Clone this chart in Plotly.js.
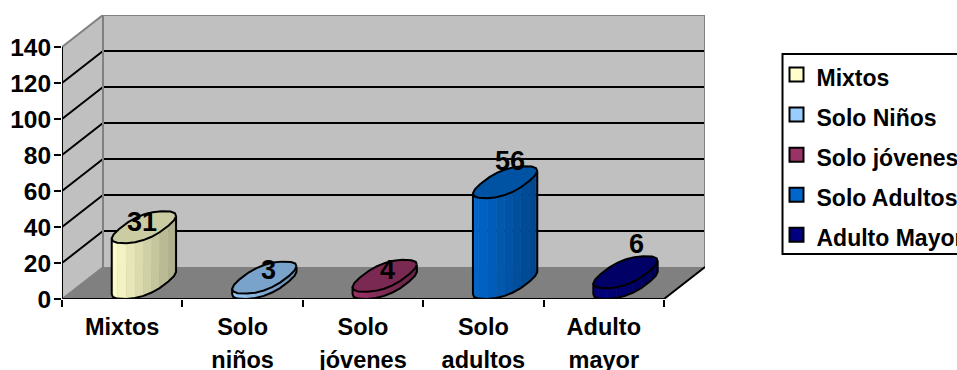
<!DOCTYPE html>
<html><head><meta charset="utf-8">
<script src="https://cdn.plot.ly/plotly-3.0.1.min.js"></script>
<style>html,body{margin:0;padding:0;background:#fff;overflow:hidden}</style>
</head><body><div id="chart" style="width:957px;height:370px"></div>
<script>
// ---- data ----
const seriesNames = ["Mixtos","Solo Niños","Solo jóvenes","Solo Adultos","Adulto Mayor"];
const categoryLine1 = ["Mixtos","Solo","Solo","Solo","Adulto"];
const categoryLine2 = ["","niños","jóvenes","adultos","mayor"];
const values = [31,3,4,56,6];
const yTicks = [0,20,40,60,80,100,120,140];
// ---- style ----
const baseColors = [[255,255,204],[153,204,255],[153,51,102],[0,102,204],[0,0,128]];
const labelNudgeX = [-1,5,4,6,12];
const labelNudgeY = [5,8,6,21,28];
const FONT = "Liberation Sans, Arial, sans-serif";
// oblique projection, in axis units
const nCat = values.length;
const depthX = 41/120.4, depthY = 32/1.8;
const halfW = 24.6/120.4;
const yTop = yTicks[yTicks.length-1];
const rgb = (c,f)=>`rgb(${c.map(v=>Math.round(v*f)).join(",")})`;
const legendSpan = s=>`<span style="font-size:23px">${s}</span>`;

const traces = [];
// series markers: hidden behind the caps, carry the legend swatches
values.forEach((v,i)=>traces.push({
  type:"scatter",mode:"markers",name:legendSpan(seriesNames[i]),
  x:[i+0.5+depthX/2],y:[v+depthY/2],
  marker:{symbol:"square",size:14,color:rgb(baseColors[i],1),line:{color:"#000",width:2}},
  hoverinfo:"skip"
}));
const boxy=0.82;
const pw=c=>Math.sign(c)*Math.pow(Math.abs(c),boxy);
function ellipse(i,cy,t){
  const cx=i+0.5+depthX/2+0.01;
  const c=pw(Math.cos(t)), s=pw(Math.sin(t));
  return [cx+halfW*0.92*c+depthX/2*s*0.98, cy+depthY/2*s];
}
const t0=Math.atan2(depthX/2,halfW), STEPS=10;
values.forEach((v,i)=>{
  const arc=[];
  for(let k=0;k<=STEPS;k++) arc.push(ellipse(i,depthY/2,t0+Math.PI+Math.PI*k/STEPS));
  // side strips
  for(let k=0;k<STEPS;k++){
    const a=arc[k],b=arc[k+1];
    const f=1-0.33*((a[0]+b[0])/2-arc[0][0])/(arc[STEPS][0]-arc[0][0]);
    traces.push({type:"scatter",mode:"lines",fill:"toself",showlegend:false,hoverinfo:"skip",
      x:[a[0],b[0],b[0],a[0],a[0]],y:[a[1],b[1],b[1]+v,a[1]+v,a[1]],
      fillcolor:rgb(baseColors[i],f),line:{width:0.5,color:rgb(baseColors[i],f)}});
  }
  // silhouette
  const sx=arc.map(p=>p[0]), sy=arc.map(p=>p[1]);
  traces.push({type:"scatter",mode:"lines",showlegend:false,hoverinfo:"skip",
    x:[arc[0][0],...sx,arc[STEPS][0]],y:[arc[0][1]+v,...sy,arc[STEPS][1]+v],
    line:{color:"#000",width:2}});
  // cap
  const cx=[],cy=[];
  for(let k=0;k<=2*STEPS;k++){const p=ellipse(i,v+depthY/2,t0+Math.PI*k/STEPS);cx.push(p[0]);cy.push(p[1]);}
  traces.push({type:"scatter",mode:"lines",fill:"toself",showlegend:false,hoverinfo:"skip",
    x:cx,y:cy,fillcolor:rgb(baseColors[i],0.8),line:{color:"#000",width:2}});
});

// walls, floor, grid
const poly=(pts,fill)=>({type:"path",xref:"x",yref:"y",layer:"below",
  path:"M"+pts.map(p=>p.join(",")).join("L")+"Z",fillcolor:fill,line:{width:0}});
const seg=(a,b,c,w)=>({type:"line",xref:"x",yref:"y",layer:"below",x0:a[0],y0:a[1],x1:b[0],y1:b[1],line:{color:c,width:w}});
const shapes=[
  poly([[depthX,depthY],[nCat+depthX,depthY],[nCat+depthX,yTop+depthY],[depthX,yTop+depthY]],"#c0c0c0"),
  poly([[0,0],[depthX,depthY],[depthX,yTop+depthY],[0,yTop]],"#c0c0c0"),
  poly([[0,0],[nCat,0],[nCat+depthX,depthY],[depthX,depthY]],"#808080"),
];
yTicks.slice(1,-1).forEach(v=>{
  shapes.push(seg([depthX,v+depthY],[nCat+depthX,v+depthY],"#000",2));
  shapes.push(seg([0,v],[depthX,v+depthY],"#000",2));
});
shapes.push(seg([0,yTop],[depthX,yTop+depthY],"#808080",2));
shapes.push(seg([depthX,yTop+depthY],[nCat+depthX,yTop+depthY],"#808080",2));
shapes.push(seg([depthX,depthY],[depthX,yTop+depthY],"#808080",2));
shapes.push(seg([nCat+depthX,depthY],[nCat+depthX,yTop+depthY],"#808080",2));
shapes.push(seg([0,0],[depthX,depthY],"#808080",1.5));
shapes.push(seg([nCat,0],[nCat+depthX,depthY],"#000",2));
shapes.push(seg([0,0],[nCat,0],"#000",2));
shapes.push(seg([0,0],[0,yTop],"#000",2));
// legend frame (open on the right: it runs off the picture)
const px=v=>(v-62)/643, py=v=>(299-v)/284;
shapes.push({type:"rect",xref:"paper",yref:"paper",layer:"below",x0:px(782.5),x1:px(1000),y0:py(254),y1:py(54),
  line:{color:"#000",width:2},fillcolor:"#fff"});

const annotations=values.map((v,i)=>({
  x:i+0.5+depthX/2,y:v+depthY/2,xref:"x",yref:"y",text:String(v),showarrow:false,
  xshift:labelNudgeX[i],yshift:labelNudgeY[i],
  font:{family:FONT,size:27,color:"#000",weight:700}
}));

const span=s=>`<span style="font-size:23.5px">${s}</span>`;
const layout={
  width:957,height:370,showlegend:true,
  margin:{l:62,r:252,t:15,b:71,pad:0,autoexpand:false},
  paper_bgcolor:"#fff",plot_bgcolor:"rgba(0,0,0,0)",
  xaxis:{type:"linear",range:[0,643/120.4],showgrid:false,zeroline:false,showline:false,
    tickmode:"array",tickvals:categoryLine1.map((_,i)=>i+0.5),
    ticktext:categoryLine1.map((s,i)=>categoryLine2[i]?span(s)+"<br>"+span(categoryLine2[i]):span(s)),
    ticks:"",tickangle:0,ticklabelstandoff:10,tickfont:{family:FONT,size:25.4,color:"#000",weight:700},
    minor:{tickmode:"array",tickvals:[0,1,2,3,4,5],ticks:"outside",ticklen:7,tickwidth:2,tickcolor:"#000",showgrid:false}},
  yaxis:{range:[0,284/1.8],showgrid:false,zeroline:false,showline:false,
    tickmode:"array",tickvals:yTicks,ticks:"outside",ticklen:7,tickwidth:2,tickcolor:"#000",ticklabelstandoff:-2,
    tickfont:{family:FONT,size:24.5,color:"#000",weight:700}},
  legend:{xref:"container",yref:"container",x:780.5/957,y:1-49.5/370,xanchor:"left",yanchor:"top",indentation:-4,
    maxheight:260,
    font:{family:FONT,size:28.5,color:"#000",weight:700},
    bgcolor:"rgba(0,0,0,0)",borderwidth:0,traceorder:"normal",itemclick:false,itemdoubleclick:false},
  shapes,annotations
};
Plotly.newPlot("chart",traces,layout,{staticPlot:true,displayModeBar:false});
</script></body></html>
